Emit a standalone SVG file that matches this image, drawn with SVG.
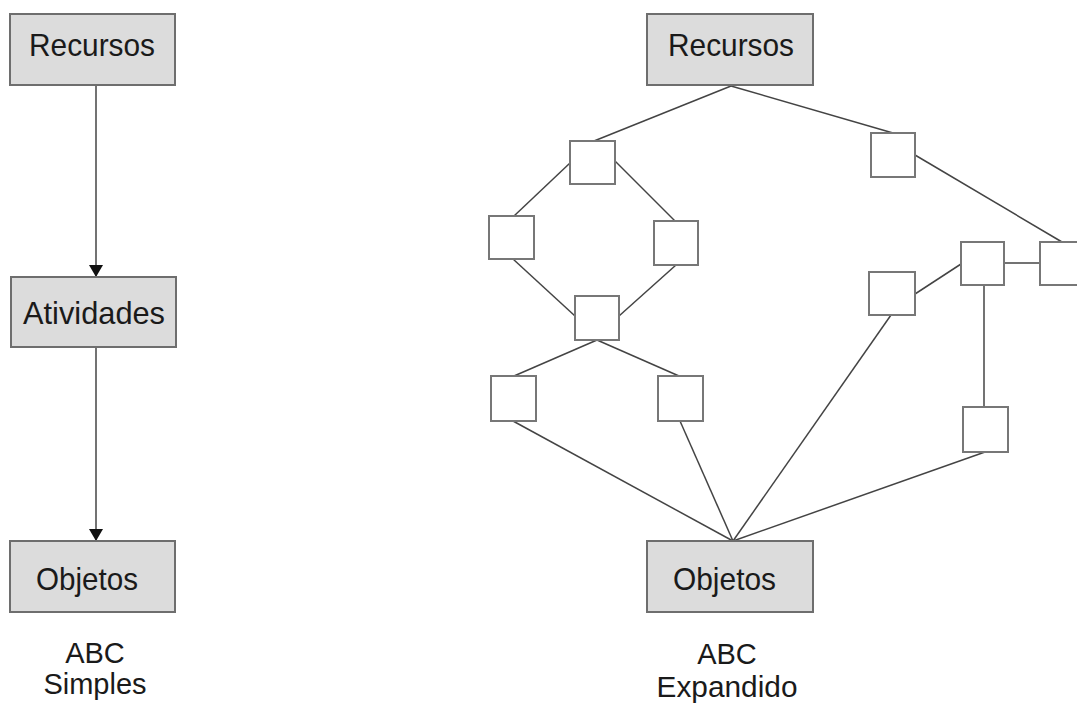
<svg xmlns="http://www.w3.org/2000/svg" width="1077" height="706" viewBox="0 0 1077 706">
<style>
.big{fill:#dcdcdc;stroke:#6e6e6e;stroke-width:2}
.sm{fill:#fff;stroke:#777;stroke-width:2}
.lbl{font-family:"Liberation Sans",Arial,sans-serif;font-size:32px;fill:#1a1a1a;text-anchor:start}
.cap{font-family:"Liberation Sans",Arial,sans-serif;font-size:29px;fill:#1a1a1a;text-anchor:middle}
.ln{stroke:#444;stroke-width:1.5;fill:none}
</style>
<defs>
<marker id="ah" viewBox="0 0 12 14" refX="12" refY="7" markerWidth="12" markerHeight="14" markerUnits="userSpaceOnUse" orient="auto">
<path d="M0,0 L12,7 L0,14 Z" fill="#111"/>
</marker>
</defs>
<rect width="1077" height="706" fill="#fff"/>
<g id="connectors">
<line class="ln" x1="96" y1="86" x2="96" y2="277" marker-end="url(#ah)"/>
<line class="ln" x1="96" y1="348" x2="96" y2="541" marker-end="url(#ah)"/>
<line class="ln" x1="731" y1="86" x2="594" y2="141"/>
<line class="ln" x1="731" y1="86" x2="893" y2="133"/>
<line class="ln" x1="570" y1="163" x2="514" y2="216"/>
<line class="ln" x1="614" y1="160" x2="675" y2="221"/>
<line class="ln" x1="513" y1="259" x2="575" y2="316"/>
<line class="ln" x1="676" y1="265" x2="619" y2="316"/>
<line class="ln" x1="597" y1="340" x2="514" y2="376"/>
<line class="ln" x1="597" y1="340" x2="679" y2="376"/>
<line class="ln" x1="513" y1="421" x2="733" y2="541"/>
<line class="ln" x1="680" y1="421" x2="733" y2="541"/>
<line class="ln" x1="891" y1="315" x2="733" y2="541"/>
<line class="ln" x1="985" y1="452" x2="733" y2="541"/>
<line class="ln" x1="915" y1="155" x2="1062" y2="242"/>
<line class="ln" x1="1004" y1="263" x2="1040" y2="263"/>
<line class="ln" x1="915" y1="294" x2="961" y2="264"/>
<line class="ln" x1="984" y1="285" x2="984" y2="407"/>
</g>
<g id="n-recursos-l"><rect class="big" x="10" y="14" width="165" height="71"/><text class="lbl" x="29" y="56" textLength="126" lengthAdjust="spacingAndGlyphs">Recursos</text></g>
<g id="n-atividades"><rect class="big" x="11" y="277" width="165" height="70"/><text class="lbl" x="23" y="324" textLength="142" lengthAdjust="spacingAndGlyphs">Atividades</text></g>
<g id="n-objetos-l"><rect class="big" x="10" y="541" width="165" height="71"/><text class="lbl" x="36" y="590" textLength="102" lengthAdjust="spacingAndGlyphs">Objetos</text></g>
<g id="cap-l"><text class="cap" x="95" y="663">ABC</text><text class="cap" x="95" y="694">Simples</text></g>
<g id="n-recursos-r"><rect class="big" x="647" y="14" width="166" height="71"/><text class="lbl" x="668" y="56" textLength="126" lengthAdjust="spacingAndGlyphs">Recursos</text></g>
<g id="n-objetos-r"><rect class="big" x="647" y="541" width="166" height="71"/><text class="lbl" x="673" y="590" textLength="103" lengthAdjust="spacingAndGlyphs">Objetos</text></g>
<g id="cap-r"><text class="cap" x="727" y="664">ABC</text><text class="cap" x="727" y="697" textLength="141" lengthAdjust="spacingAndGlyphs">Expandido</text></g>
<g id="n-a"><rect class="sm" x="570" y="141" width="45" height="43"/></g>
<g id="n-b"><rect class="sm" x="489" y="216" width="45" height="43"/></g>
<g id="n-c"><rect class="sm" x="654" y="221" width="44" height="44"/></g>
<g id="n-d"><rect class="sm" x="575" y="296" width="44" height="44"/></g>
<g id="n-e"><rect class="sm" x="491" y="376" width="45" height="45"/></g>
<g id="n-f"><rect class="sm" x="658" y="376" width="45" height="45"/></g>
<g id="n-g"><rect class="sm" x="871" y="133" width="44" height="44"/></g>
<g id="n-h"><rect class="sm" x="961" y="242" width="43" height="43"/></g>
<g id="n-i"><rect class="sm" x="1040" y="242" width="44" height="43"/></g>
<g id="n-j"><rect class="sm" x="869" y="272" width="46" height="43"/></g>
<g id="n-k"><rect class="sm" x="963" y="407" width="45" height="45"/></g>
</svg>
